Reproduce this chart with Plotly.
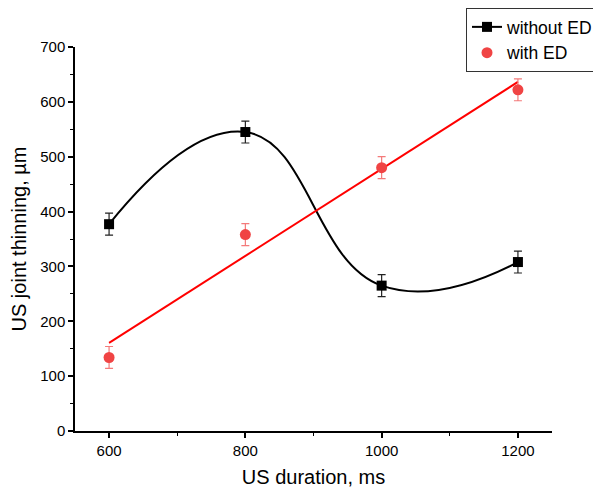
import numpy as np
import plotly.graph_objects as go

duration = [600, 800, 1000, 1200]
without_ed = [377, 545, 265, 308]
without_ed_err = [20, 20, 20, 20]
with_ed = [134, 358, 480, 622]
with_ed_err = [20, 20, 20, 20]

# linear fit for the "with ED" series
slope, intercept = np.polyfit(duration, with_ed, 1)
fit_x = [duration[0], duration[-1]]
fit_y = [slope * x + intercept for x in fit_x]

fig = go.Figure()
fig.add_trace(go.Scatter(
    x=duration, y=without_ed, name="without ED", mode="lines+markers",
    line=dict(color="black", width=2, shape="spline", smoothing=1.3),
    marker=dict(symbol="square", size=10, color="black"),
    error_y=dict(type="data", array=without_ed_err, color="#222222", thickness=1.2, width=4),
))
fig.add_trace(go.Scatter(
    x=fit_x, y=fit_y, mode="lines", showlegend=False,
    line=dict(color="#ff0000", width=2),
))
fig.add_trace(go.Scatter(
    x=duration, y=with_ed, name="with ED", mode="markers",
    marker=dict(symbol="circle", size=11, color="#f04444"),
    error_y=dict(type="data", array=with_ed_err, color="#f47a7a", thickness=1.2, width=4),
))

font_family = "Liberation Sans, Arial, sans-serif"
fig.update_layout(
    width=601, height=494,
    margin=dict(l=67, r=57, t=39, b=71, autoexpand=False),
    paper_bgcolor="white", plot_bgcolor="white",
    font=dict(family=font_family, color="black", size=15),
    showlegend=True,
    legend=dict(
        x=(466 - 75) / 477, y=(431 - 8) / 384, xanchor="left", yanchor="top",
        bordercolor="#333333", borderwidth=1, bgcolor="white",
        font=dict(size=17.5), tracegroupgap=0, itemwidth=30,
    ),
    xaxis=dict(
        range=[550, 1250], tickvals=[600, 800, 1000, 1200],
        showgrid=False, zeroline=False, showline=True, linecolor="black", linewidth=1.5,
        ticks="outside", ticklen=5, tickcolor="black", tickwidth=1.5, automargin=False,
        minor=dict(tickvals=[700, 900, 1100], ticks="outside", ticklen=3, tickcolor="black", tickwidth=1.2),
        title=dict(text="US duration, ms", font=dict(size=20), standoff=12),
        tickfont=dict(size=15),
    ),
    yaxis=dict(
        range=[0, 700], tickvals=[0, 100, 200, 300, 400, 500, 600, 700],
        showgrid=False, zeroline=False, showline=True, linecolor="black", linewidth=1.5,
        ticks="outside", ticklen=5, tickcolor="black", tickwidth=1.5, automargin=False,
        minor=dict(tickvals=[50, 150, 250, 350, 450, 550, 650], ticks="outside", ticklen=3, tickcolor="black", tickwidth=1.2),
        title=dict(text="US joint thinning, µm", font=dict(size=20), standoff=9),
        tickfont=dict(size=15),
    ),
)
fig.write_html("out.html")
